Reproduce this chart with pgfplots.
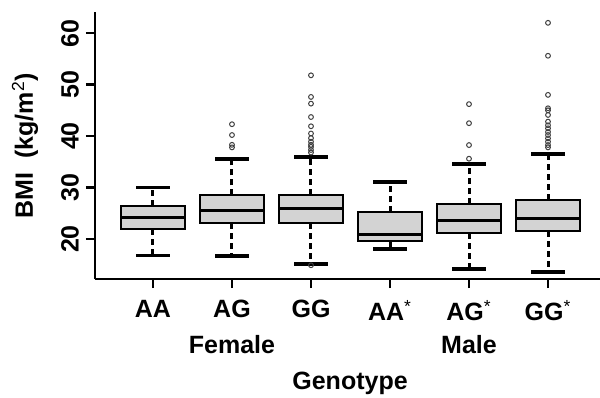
\documentclass[border=0pt]{standalone}
\usepackage{pgfplots}
\pgfplotsset{compat=1.18}
\usepackage{fontspec}
\setmainfont{Liberation Sans}
\definecolor{boxfill}{RGB}{211,211,211}
\newcommand\lab{\fontsize{12.5}{15}\selectfont\bfseries}
\begin{document}
\begin{tikzpicture}
\begin{axis}[
  scale only axis, width=252.5pt, height=133.5pt,
  xmin=0.266, xmax=6.658, ymin=12.23, ymax=64.1,
  clip=false,
  unbounded coords=jump,
  axis x line*=bottom, axis y line*=left,
  axis line style={line width=1.3pt, -},
  xtick={1,2,3,4,5,6},
  xticklabels={AA,AG,GG,AA\textsuperscript{\mdseries*},AG\textsuperscript{\mdseries*},GG\textsuperscript{\mdseries*}},
  ytick={20,30,40,50,60},
  tick align=outside, major tick length=4.5pt,
  tick style={line width=1.3pt, black},
  /pgf/number format/assume math mode=true,
  ticklabel style={font=\lab},
  xticklabel style={yshift=-2.5pt},
  yticklabel style={rotate=90, anchor=south},
  ylabel={BMI\ \ (kg/m\textsuperscript{\mdseries 2})},
  ylabel style={at={(axis description cs:-0.1386,0.5)}, anchor=center, font=\lab},
  xlabel={Genotype},
  xlabel style={at={(axis description cs:0.505,-0.3895)}, anchor=center, font=\lab},
]
% whiskers (dashed): from quartile to whisker end
\addplot[black, line width=1.5pt, dash pattern=on 3pt off 2pt] coordinates {
 (1,26.5)(1,30.0) (1,nan) (1,21.9)(1,16.8) (1,nan)
 (2,28.5)(2,35.5) (2,nan) (2,23.05)(2,16.7) (2,nan)
 (3,28.5)(3,35.9) (3,nan) (3,23.05)(3,15.2) (3,nan)
 (4,25.2)(4,31.1) (4,nan) (4,19.7)(4,18.06) (4,nan)
 (5,26.8)(5,34.6) (5,nan) (5,21.1)(5,14.2) (5,nan)
 (6,27.6)(6,36.5) (6,nan) (6,21.5)(6,13.6)
};
% whisker caps
\addplot[black, line width=1.8pt] coordinates {
 (0.79,30.0)(1.21,30.0) (1,nan) (0.79,16.8)(1.21,16.8) (1,nan)
 (1.79,35.5)(2.21,35.5) (2,nan) (1.79,16.7)(2.21,16.7) (2,nan)
 (2.79,35.9)(3.21,35.9) (3,nan) (2.79,15.2)(3.21,15.2) (3,nan)
 (3.79,31.1)(4.21,31.1) (4,nan) (3.79,18.06)(4.21,18.06) (4,nan)
 (4.79,34.6)(5.21,34.6) (5,nan) (4.79,14.2)(5.21,14.2) (5,nan)
 (5.79,36.5)(6.21,36.5) (6,nan) (5.79,13.6)(6.21,13.6)
};
% boxes (lower quartile to upper quartile)
\addplot[fill=boxfill, draw=black, line width=1pt] coordinates {(0.6,21.9)(1.4,21.9)(1.4,26.5)(0.6,26.5)} -- cycle;
\addplot[fill=boxfill, draw=black, line width=1pt] coordinates {(1.6,23.05)(2.4,23.05)(2.4,28.5)(1.6,28.5)} -- cycle;
\addplot[fill=boxfill, draw=black, line width=1pt] coordinates {(2.6,23.05)(3.4,23.05)(3.4,28.5)(2.6,28.5)} -- cycle;
\addplot[fill=boxfill, draw=black, line width=1pt] coordinates {(3.6,19.7)(4.4,19.7)(4.4,25.2)(3.6,25.2)} -- cycle;
\addplot[fill=boxfill, draw=black, line width=1pt] coordinates {(4.6,21.1)(5.4,21.1)(5.4,26.8)(4.6,26.8)} -- cycle;
\addplot[fill=boxfill, draw=black, line width=1pt] coordinates {(5.6,21.5)(6.4,21.5)(6.4,27.6)(5.6,27.6)} -- cycle;
% medians
\addplot[black, line width=1.5pt] coordinates {
 (0.6,24.1)(1.4,24.1) (1,nan)
 (1.6,25.6)(2.4,25.6) (2,nan)
 (2.6,25.9)(3.4,25.9) (3,nan)
 (3.6,20.9)(4.4,20.9) (4,nan)
 (4.6,23.55)(5.4,23.55) (5,nan)
 (5.6,23.9)(6.4,23.9)
};
% outliers
\addplot[only marks, mark=o, mark size=1.2pt, mark options={draw=black!75, line width=0.5pt}] coordinates {
 (2,42.3)(2,40.2)(2,38.3)(2,37.8)
 (3,51.8)(3,47.6)(3,46.3)(3,43.7)(3,41.9)(3,40.5)(3,39.6)(3,38.9)(3,38.3)(3,37.9)(3,37.3)(3,36.8)(3,14.9)
 (5,46.2)(5,42.5)(5,38.25)(5,35.6)
 (6,62.0)(6,55.6)(6,48.0)(6,45.4)(6,45.0)(6,44.1)(6,42.8)(6,42.1)(6,41.5)(6,40.8)(6,40.2)(6,39.55)(6,38.9)(6,38.25)(6,37.8)
};
\node[font=\lab] at (axis description cs:0.2713,-0.2453) {Female};
\node[font=\lab] at (axis description cs:0.7406,-0.2453) {Male};
\end{axis}
\pgfresetboundingbox
\path[use as bounding box] (-47.5pt,-59pt) rectangle (252.5pt,139.5pt);
\end{tikzpicture}
\end{document}
